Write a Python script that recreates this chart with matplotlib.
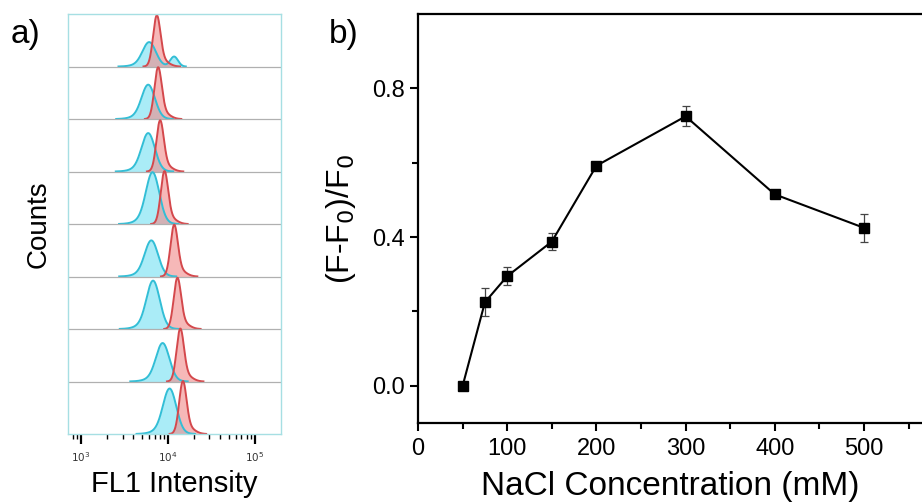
import numpy as np
import matplotlib.pyplot as plt

plt.rcParams['font.family'] = ['Liberation Sans', 'DejaVu Sans']

# panel b data
nacl = [50, 75, 100, 150, 200, 300, 400, 500]
ratio = [0.0, 0.225, 0.295, 0.388, 0.592, 0.725, 0.515, 0.425]
ratio_err = [0.008, 0.037, 0.024, 0.022, 0.01, 0.027, 0.01, 0.037]

# panel a: peak parameters per row (log10 FL1 position, relative height)
cyan_pos = [3.785, 3.774, 3.774, 3.824, 3.81, 3.83, 3.94, 4.02]
cyan_h = [0.42, 0.59, 0.66, 0.89, 0.62, 0.83, 0.66, 0.78]
red_pos = [3.87, 3.885, 3.908, 3.958, 4.07, 4.107, 4.14, 4.17]
red_h = [0.91, 0.92, 0.91, 0.94, 0.92, 0.91, 0.94, 0.94]
extra_cyan_pos = 4.07   # second small cyan peak in top row
extra_cyan_h = 0.19


def peak(lx, pos, h, w):
    return h * np.exp(-0.5 * ((lx - pos) / w) ** 2)


fig = plt.figure(figsize=(9.22, 5.03), dpi=100)

# ---- panel a ----
axa = fig.add_axes([0.0738, 0.1372, 0.2310, 0.8348])
n = len(cyan_pos)
lx = np.linspace(2.85, 5.3, 1500)
x = 10 ** lx
for i in range(n):
    base = n - 1 - i
    c = peak(lx, cyan_pos[i], cyan_h[i], 0.075) + peak(lx, cyan_pos[i] - 0.05, 0.12 * cyan_h[i], 0.12)
    if i == 0:
        c = c + peak(lx, extra_cyan_pos, extra_cyan_h, 0.045)
    r = peak(lx, red_pos[i], red_h[i], 0.042) + peak(lx, red_pos[i] + 0.07, 0.12 * red_h[i], 0.07)
    for y, fc, ec in [(c, '#72e0f2', '#32bed6'), (r, '#f08a8a', '#d4484c')]:
        m = y > 0.002
        axa.fill_between(x, base, base + y, where=m, color=fc, alpha=0.6, lw=0)
        axa.plot(x[m], base + y[m], color=ec, lw=1.4)
    if base > 0:
        axa.axhline(base, color='#b0b0b0', lw=0.9)
axa.set_xscale('log')
axa.set_xlim(10 ** 2.85, 10 ** 5.3)
axa.set_ylim(0, n)
axa.set_yticks([])
for s in axa.spines.values():
    s.set_color('#a6dfe3')
    s.set_linewidth(1.0)
axa.tick_params(axis='x', which='major', direction='out', length=7, width=1.6,
                colors='black', labelsize=7.5, pad=5)
axa.tick_params(axis='x', which='minor', direction='out', length=3.5, width=1.0,
                colors='black')
axa.set_xticks([1e3, 1e4, 1e5])
axa.set_xticklabels([r'$10^3$', r'$10^4$', r'$10^5$'], color='#333333')
axa.set_xlabel('FL1 Intensity', fontsize=21, labelpad=4)
axa.set_ylabel('Counts', fontsize=20, labelpad=12)

# ---- panel b ----
axb = fig.add_axes([0.4534, 0.159, 0.5466, 0.813])
axb.errorbar(nacl, ratio, yerr=ratio_err, color='black', lw=1.5, marker='s',
             markersize=7, ecolor='#444444', elinewidth=0.9, capsize=3, capthick=0.9)
axb.set_xlim(0, 565)
axb.set_ylim(-0.1, 1.0)
axb.set_xticks([0, 100, 200, 300, 400, 500])
axb.set_xticks([50, 150, 250, 350, 450, 550], minor=True)
axb.set_yticks([0.0, 0.4, 0.8])
axb.set_yticks([0.2, 0.6], minor=True)
axb.set_yticklabels(['0.0', '0.4', '0.8'])
axb.spines['right'].set_visible(False)
for s in ['left', 'bottom', 'top']:
    axb.spines[s].set_linewidth(1.6)
axb.tick_params(which='major', direction='out', length=6, width=1.5, labelsize=17)
axb.tick_params(axis='x', which='major', pad=5)
axb.tick_params(which='minor', direction='out', length=4, width=1.5)
axb.set_xlabel('NaCl Concentration (mM)', fontsize=24, labelpad=8)
axb.set_ylabel(r'(F-F$_0$)/F$_0$', fontsize=23, labelpad=10)

fig.text(0.011, 0.915, 'a)', fontsize=24)
fig.text(0.357, 0.915, 'b)', fontsize=24)

fig.savefig('out.png', dpi=100)
